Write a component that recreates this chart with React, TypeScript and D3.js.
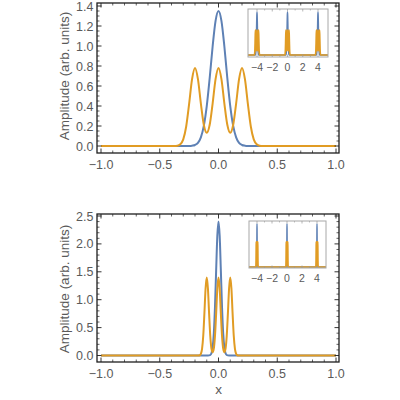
import React from "react";
import * as d3 from "d3";

// ---------- data ----------
const xTicks = [-1, -0.5, 0, 0.5, 1];
const topYTicks = [0, 0.2, 0.4, 0.6, 0.8, 1.0, 1.2, 1.4];
const botYTicks = [0, 0.5, 1.0, 1.5, 2.0, 2.5];
const insetTicks = [-4, -2, 0, 2, 4];
const insetCenters = [-4, 0, 4];
const xDomain = [-1, 1];

const topGrid = [
  -0.4, -0.375, -0.35, -0.325, -0.3, -0.275, -0.25, -0.225, -0.2, -0.175, -0.15,
  -0.125, -0.1, -0.075, -0.05, -0.025, 0, 0.025, 0.05, 0.075, 0.1, 0.125, 0.15,
  0.175, 0.2, 0.225, 0.25, 0.275, 0.3, 0.325, 0.35, 0.375, 0.4,
];
const topBlue = [
  0, 0, 0, 0, 0, 0, 0, 0.003, 0.01, 0.032, 0.087, 0.201, 0.399, 0.68, 0.995, 1.251,
  1.35, 1.251, 0.995, 0.68, 0.399, 0.201, 0.087, 0.032, 0.01, 0.003, 0, 0, 0, 0, 0,
  0, 0,
];
const topOrange = [
  0, 0, 0.003, 0.017, 0.066, 0.195, 0.421, 0.668, 0.78, 0.668, 0.424, 0.212, 0.132,
  0.212, 0.424, 0.668, 0.78, 0.668, 0.424, 0.212, 0.132, 0.212, 0.424, 0.668, 0.78,
  0.668, 0.421, 0.195, 0.066, 0.017, 0.003, 0, 0,
];

const botGrid = [
  -0.2, -0.19, -0.18, -0.17, -0.16, -0.15, -0.14, -0.13, -0.12, -0.11, -0.1, -0.09,
  -0.08, -0.07, -0.06, -0.05, -0.04, -0.03, -0.02, -0.01, 0, 0.01, 0.02, 0.03, 0.04,
  0.05, 0.06, 0.07, 0.08, 0.09, 0.1, 0.11, 0.12, 0.13, 0.14, 0.15, 0.16, 0.17, 0.18,
  0.19, 0.2,
];
const botBlue = [
  0, 0, 0, 0, 0, 0, 0, 0, 0, 0, 0, 0, 0.002, 0.009, 0.04, 0.141, 0.391, 0.865, 1.525,
  2.143, 2.4, 2.143, 1.525, 0.865, 0.391, 0.141, 0.04, 0.009, 0.002, 0, 0, 0, 0, 0, 0,
  0, 0, 0, 0, 0, 0,
];
const botOrange = [
  0, 0, 0, 0.001, 0.005, 0.03, 0.119, 0.349, 0.755, 1.2, 1.4, 1.2, 0.755, 0.35, 0.124,
  0.06, 0.124, 0.35, 0.755, 1.2, 1.4, 1.2, 0.755, 0.35, 0.124, 0.06, 0.124, 0.349,
  0.755, 1.2, 1.4, 1.2, 0.755, 0.349, 0.119, 0.03, 0.005, 0.001, 0, 0, 0,
];

// ---------- style ----------
const BLUE = "#5E81B5";
const ORANGE = "#E19C24";
const FRAME = "#1e1e1e";
const LABEL = "#5a5a5a";
const FONT = "'Liberation Sans', Arial, sans-serif";

const fmt1 = (v: number) => {
  const s = Math.abs(v).toFixed(1);
  return (v < 0 ? "\u2212" : "") + s;
};
const fmt0 = (v: number) => (v < 0 ? "\u2212" : "") + Math.abs(v).toFixed(0);

type Pt = [number, number];

function mainSeries(grid: number[], ys: number[]): Pt[] {
  const pts: Pt[] = grid.map((g, i) => [g, ys[i]] as Pt);
  return [[xDomain[0], 0], ...pts, [xDomain[1], 0]];
}

function insetSeries(grid: number[], ys: number[], lo: number, hi: number): Pt[] {
  const pts: Pt[] = [[lo, 0]];
  insetCenters.forEach((c) => {
    grid.forEach((g, i) => pts.push([c + g, ys[i]]));
  });
  pts.push([hi, 0]);
  return pts;
}

interface PanelProps {
  id: string;
  frame: { x0: number; x1: number; y0: number; y1: number };
  xRange: [number, number];
  yDomain: [number, number];
  yRange: [number, number];
  yTicks: number[];
  yMinorCount: number;
  grid: number[];
  blue: number[];
  orange: number[];
  inset: {
    x0: number;
    x1: number;
    y0: number;
    y1: number;
    xAt: [number, number];
    yBase: number;
    yPeak: number;
    peak: number;
  };
  yLabelY: number;
}

function Panel(p: PanelProps) {
  const { frame, inset } = p;
  const x = d3.scaleLinear().domain(xDomain).range(p.xRange);
  const y = d3.scaleLinear().domain(p.yDomain).range(p.yRange);
  const line = d3
    .line<Pt>()
    .x((d) => x(d[0]))
    .y((d) => y(d[1]))
    .curve(d3.curveMonotoneX);

  const xMinor = x.ticks(20).filter((t) => !xTicks.some((m) => Math.abs(m - t) < 1e-9));
  const yMinor = y
    .ticks(p.yMinorCount)
    .filter((t) => !p.yTicks.some((m) => Math.abs(m - t) < 1e-9));

  const ix = d3.scaleLinear().domain([-4, 4]).range(inset.xAt);
  const iy = d3.scaleLinear().domain([0, inset.peak]).range([inset.yBase, inset.yPeak]);
  const iLo = ix.invert(inset.x0 - 2);
  const iHi = ix.invert(inset.x1 + 2);
  const iline = d3
    .line<Pt>()
    .x((d) => ix(d[0]))
    .y((d) => iy(d[1]))
    .curve(d3.curveMonotoneX);
  const iMinor = ix
    .ticks(10)
    .filter((t) => !insetTicks.includes(t) && ix(t) > inset.x0 && ix(t) < inset.x1);
  const clipId = `clip-${p.id}`;

  const MAJ = 4.5;
  const MIN = 2.5;

  return (
    <g>
      <path d={line(mainSeries(p.grid, p.blue)) || ""} fill="none" stroke={BLUE} strokeWidth={2} />
      <path d={line(mainSeries(p.grid, p.orange)) || ""} fill="none" stroke={ORANGE} strokeWidth={2} />

      <rect
        x={frame.x0}
        y={frame.y0}
        width={frame.x1 - frame.x0}
        height={frame.y1 - frame.y0}
        fill="none"
        stroke={FRAME}
        strokeWidth={1.3}
      />
      {xTicks.map((t) => (
        <g key={`xt${t}`}>
          <line x1={x(t)} x2={x(t)} y1={frame.y1} y2={frame.y1 - MAJ} stroke={FRAME} strokeWidth={0.9} />
          <line x1={x(t)} x2={x(t)} y1={frame.y0} y2={frame.y0 + MAJ} stroke={FRAME} strokeWidth={0.9} />
          <text
            x={x(t)}
            y={frame.y1 + 15.5}
            textAnchor="middle"
            fontSize={12.5}
            fill={LABEL}
            fontFamily={FONT}
          >
            {fmt1(t)}
          </text>
        </g>
      ))}
      {xMinor.map((t) => (
        <g key={`xm${t}`}>
          <line x1={x(t)} x2={x(t)} y1={frame.y1} y2={frame.y1 - MIN} stroke={FRAME} strokeWidth={0.7} />
          <line x1={x(t)} x2={x(t)} y1={frame.y0} y2={frame.y0 + MIN} stroke={FRAME} strokeWidth={0.7} />
        </g>
      ))}
      {p.yTicks.map((t) => (
        <g key={`yt${t}`}>
          <line x1={frame.x0} x2={frame.x0 + MAJ} y1={y(t)} y2={y(t)} stroke={FRAME} strokeWidth={0.9} />
          <line x1={frame.x1} x2={frame.x1 - MAJ} y1={y(t)} y2={y(t)} stroke={FRAME} strokeWidth={0.9} />
          <text
            x={frame.x0 - 3.5}
            y={y(t) + 4.5}
            textAnchor="end"
            fontSize={12.5}
            fill={LABEL}
            fontFamily={FONT}
          >
            {fmt1(t)}
          </text>
        </g>
      ))}
      {yMinor.map((t) => (
        <g key={`ym${t}`}>
          <line x1={frame.x0} x2={frame.x0 + MIN} y1={y(t)} y2={y(t)} stroke={FRAME} strokeWidth={0.7} />
          <line x1={frame.x1} x2={frame.x1 - MIN} y1={y(t)} y2={y(t)} stroke={FRAME} strokeWidth={0.7} />
        </g>
      ))}
      <text
        transform={`translate(68.5,${p.yLabelY}) rotate(-90)`}
        textAnchor="middle"
        fontSize={13.5}
        fill={LABEL}
        fontFamily={FONT}
      >
        Amplitude (arb. units)
      </text>

      <defs>
        <clipPath id={clipId}>
          <rect x={inset.x0} y={inset.y0} width={inset.x1 - inset.x0} height={inset.y1 - inset.y0} />
        </clipPath>
      </defs>
      <rect
        x={inset.x0}
        y={inset.y0}
        width={inset.x1 - inset.x0}
        height={inset.y1 - inset.y0}
        fill="white"
      />
      <g clipPath={`url(#${clipId})`}>
        <path
          d={iline(insetSeries(p.grid, p.blue, iLo, iHi)) || ""}
          fill="none"
          stroke={BLUE}
          strokeWidth={1.4}
        />
        <path
          d={iline(insetSeries(p.grid, p.orange, iLo, iHi)) || ""}
          fill="none"
          stroke={ORANGE}
          strokeWidth={1.6}
        />
      </g>
      <rect
        x={inset.x0}
        y={inset.y0}
        width={inset.x1 - inset.x0}
        height={inset.y1 - inset.y0}
        fill="none"
        stroke="#a8a8a8"
        strokeWidth={1}
      />
      {insetTicks.map((t) => (
        <g key={`it${t}`}>
          <line x1={ix(t)} x2={ix(t)} y1={inset.y1} y2={inset.y1 - 2.5} stroke="#999" strokeWidth={0.7} />
          <line x1={ix(t)} x2={ix(t)} y1={inset.y0} y2={inset.y0 + 2.5} stroke="#999" strokeWidth={0.7} />
          <text
            x={ix(t)}
            y={inset.y1 + 14}
            textAnchor="middle"
            fontSize={10.5}
            fill={LABEL}
            fontFamily={FONT}
          >
            {fmt0(t)}
          </text>
        </g>
      ))}
      {iMinor.map((t) => (
        <g key={`im${t}`}>
          <line x1={ix(t)} x2={ix(t)} y1={inset.y1} y2={inset.y1 - 1.5} stroke="#999" strokeWidth={0.6} />
          <line x1={ix(t)} x2={ix(t)} y1={inset.y0} y2={inset.y0 + 1.5} stroke="#999" strokeWidth={0.6} />
        </g>
      ))}
    </g>
  );
}

export default function App() {
  return (
    <div style={{ position: "fixed", left: 0, top: 0, width: 400, height: 400, background: "white" }}>
      <svg width={400} height={400} viewBox="0 0 400 400" style={{ display: "block" }}>
        <rect x={0} y={0} width={400} height={400} fill="white" />
        <Panel
          id="top"
          frame={{ x0: 97, x1: 339, y0: 3, y1: 153 }}
          xRange={[101, 336]}
          yDomain={[0, 1.4]}
          yRange={[146, 6]}
          yTicks={topYTicks}
          yMinorCount={28}
          grid={topGrid}
          blue={topBlue}
          orange={topOrange}
          inset={{ x0: 248, x1: 328, y0: 9, y1: 57, xAt: [257, 318], yBase: 55, yPeak: 12, peak: 1.35 }}
          yLabelY={76}
        />
        <Panel
          id="bot"
          frame={{ x0: 97, x1: 339, y0: 214, y1: 362 }}
          xRange={[101, 336]}
          yDomain={[0, 2.5]}
          yRange={[355.5, 216]}
          yTicks={botYTicks}
          yMinorCount={25}
          grid={botGrid}
          blue={botBlue}
          orange={botOrange}
          inset={{ x0: 249, x1: 326, y0: 221, y1: 268, xAt: [257, 317], yBase: 267, yPeak: 224, peak: 2.4 }}
          yLabelY={289}
        />
        <text x={218.5} y={394} textAnchor="middle" fontSize={13.5} fill={LABEL} fontFamily={FONT}>
          x
        </text>
      </svg>
    </div>
  );
}
